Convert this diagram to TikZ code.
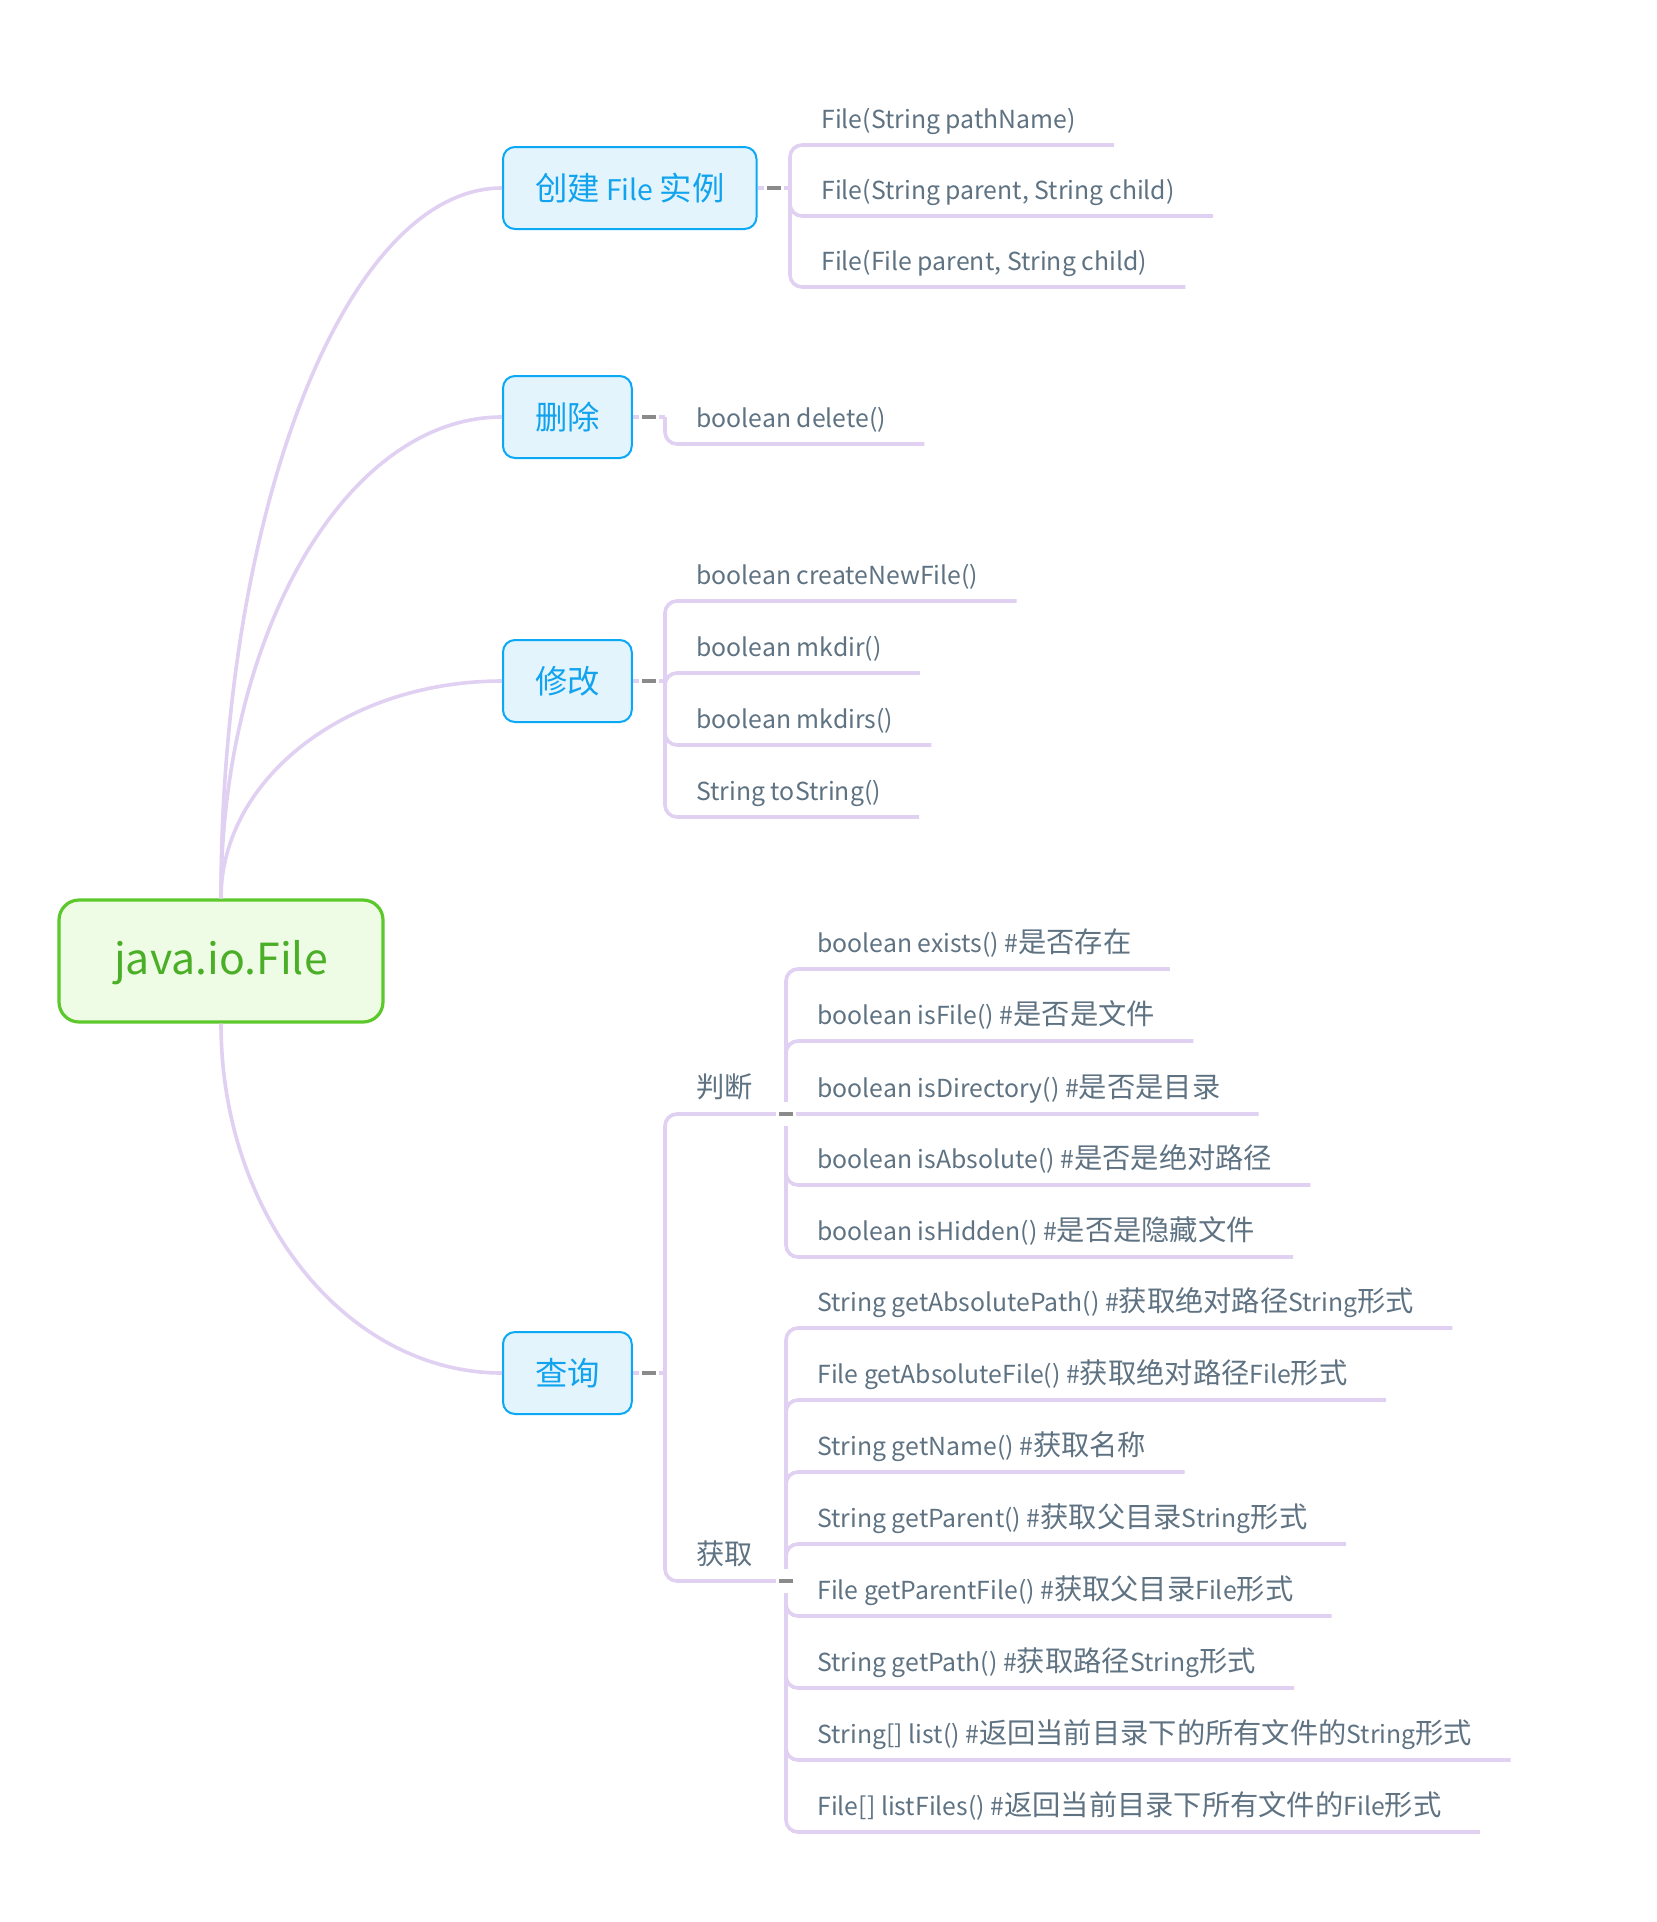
\documentclass[tikz,border=0pt]{standalone}
\usepackage{fontspec}
\setmainfont{Noto Sans CJK SC}
\newfontfamily\zhfont{Noto Sans CJK SC}[Scale=1.14]
\newcommand\zh[1]{{\zhfont #1}}
\definecolor{rootfill}{HTML}{EEFCE5}
\definecolor{rootdraw}{HTML}{5CC82B}
\definecolor{roottext}{HTML}{4BAE27}
\definecolor{topicfill}{HTML}{E3F4FD}
\definecolor{topicdraw}{HTML}{0AA8F5}
\definecolor{topictext}{HTML}{12A3EE}
\definecolor{leaftext}{HTML}{5E7282}
\definecolor{branch}{HTML}{E0D0F2}
\definecolor{foldgray}{HTML}{8A8A8A}

\begin{document}
\begin{tikzpicture}
    [x=0.5pt,y=-0.5pt,
     root/.style={draw=rootdraw,line width=1.6pt,fill=rootfill,rounded corners=10pt,text=roottext,
       font=\fontsize{21.4}{25}\selectfont,text height=19pt,minimum width=162pt,minimum height=61pt},
     topic/.style={draw=topicdraw,line width=1pt,fill=topicfill,rounded corners=6pt,text=topictext,
       font=\fontsize{14.2}{18}\selectfont,inner xsep=16pt,minimum height=41pt,anchor=west},
     leaf/.style={anchor=south west,inner sep=0pt,text=leaftext,font=\fontsize{12.4}{15}\selectfont,
       text depth=8.2pt,execute at begin node=\hspace*{15.5pt},execute at end node=\hspace*{19pt}},
     link/.style={draw=branch,line width=1.8pt},
     fork/.style={draw=branch,line width=1.8pt,rounded corners=6pt},
     fold/.style={fill=white,inner sep=0pt,minimum width=10pt,minimum height=12pt,
       path picture={\draw[foldgray,line width=1.7pt]
         ([xshift=-3.3pt]path picture bounding box.center) -- ([xshift=3.3pt]path picture bounding box.center);}}]
    \useasboundingbox (0,0) rectangle (1656,1922);

    \node[root] (root) at (221,961) {java.io.File};
    \node[topic] (create) at (502,188) {\zh{创建} File \zh{实例}};
    \node[topic] (delete) at (502,417) {\zh{删除}};
    \node[topic] (modify) at (502,681) {\zh{修改}};
    \node[topic] (query) at (502,1373) {\zh{查询}};

    \draw[link] (root.north) .. controls +(0,-392) and +(-155,0) .. (create.west);
    \draw[link] (root.north) .. controls +(0,-266) and +(-155,0) .. (delete.west);
    \draw[link] (root.north) .. controls +(0,-120) and +(-155,0) .. (modify.west);
    \draw[link] (root.south) .. controls +(0,193) and +(-155,0) .. (query.west);

    \coordinate (cb) at (790,188);
    \coordinate (db) at (665,417);
    \coordinate (mb) at (665,681);
    \coordinate (qb) at (665,1373);
    \coordinate (jb) at (786,1114);
    \coordinate (gb) at (786,1581);

    \node[leaf] (c1) at (cb |- 0,145) {File(String pathName)};
    \node[leaf] (c2) at (cb |- 0,216) {File(String parent, String child)};
    \node[leaf] (c3) at (cb |- 0,287) {File(File parent, String child)};

    \node[leaf] (d1) at (db |- 0,444) {boolean delete()};

    \node[leaf] (m1) at (mb |- 0,601) {boolean createNewFile()};
    \node[leaf] (m2) at (mb |- 0,673) {boolean mkdir()};
    \node[leaf] (m3) at (mb |- 0,745) {boolean mkdirs()};
    \node[leaf] (m4) at (mb |- 0,817) {String toString()};

    \node[leaf] (judge) at (qb |- 0,1114) {\zh{判断}};
    \node[leaf] (get) at (qb |- 0,1581) {\zh{获取}};

    \node[leaf] (j1) at (jb |- 0,969) {boolean exists() \#\zh{是否存在}};
    \node[leaf] (j2) at (jb |- 0,1041) {boolean isFile() \#\zh{是否是文件}};
    \node[leaf] (j3) at (jb |- 0,1114) {boolean isDirectory() \#\zh{是否是目录}};
    \node[leaf] (j4) at (jb |- 0,1185) {boolean isAbsolute() \#\zh{是否是绝对路径}};
    \node[leaf] (j5) at (jb |- 0,1257) {boolean isHidden() \#\zh{是否是隐藏文件}};

    \node[leaf] (g1) at (gb |- 0,1328) {String getAbsolutePath() \#\zh{获取绝对路径}String\zh{形式}};
    \node[leaf] (g2) at (gb |- 0,1400) {File getAbsoluteFile() \#\zh{获取绝对路径}File\zh{形式}};
    \node[leaf] (g3) at (gb |- 0,1472) {String getName() \#\zh{获取名称}};
    \node[leaf] (g4) at (gb |- 0,1544) {String getParent() \#\zh{获取父目录}String\zh{形式}};
    \node[leaf] (g5) at (gb |- 0,1616) {File getParentFile() \#\zh{获取父目录}File\zh{形式}};
    \node[leaf] (g6) at (gb |- 0,1688) {String getPath() \#\zh{获取路径}String\zh{形式}};
    \node[leaf] (g7) at (gb |- 0,1760) {String[] list() \#\zh{返回当前目录下的所有文件的}String\zh{形式}};
    \node[leaf] (g8) at (gb |- 0,1832) {File[] listFiles() \#\zh{返回当前目录下所有文件的}File\zh{形式}};

    \draw[link] (create.east) -- (cb);
    \draw[link] (delete.east) -- (db);
    \draw[link] (modify.east) -- (mb);
    \draw[link] (query.east) -- (qb);

    \foreach \n in {c1,c2,c3} \draw[fork] (cb) |- (\n.south east);
    \draw[fork] (db) |- (d1.south east);
    \foreach \n in {m1,m2,m3,m4} \draw[fork] (mb) |- (\n.south east);
    \draw[fork] (qb) |- (jb);
    \draw[fork] (qb) |- (gb);
    \foreach \n in {j1,j2,j3,j4,j5} \draw[fork] (jb) |- (\n.south east);
    \foreach \n in {g1,g2,g3,g4,g5,g6,g7,g8} \draw[fork] (gb) |- (\n.south east);

    \node[fold] (cf) at (774,188) {};
    \node[fold] (df) at (649,417) {};
    \node[fold] (mf) at (649,681) {};
    \node[fold] (qf) at (649,1373) {};
    \node[fold] (jf) at (jb) {};
    \node[fold] (gf) at (gb) {};
\end{tikzpicture}
\end{document}
